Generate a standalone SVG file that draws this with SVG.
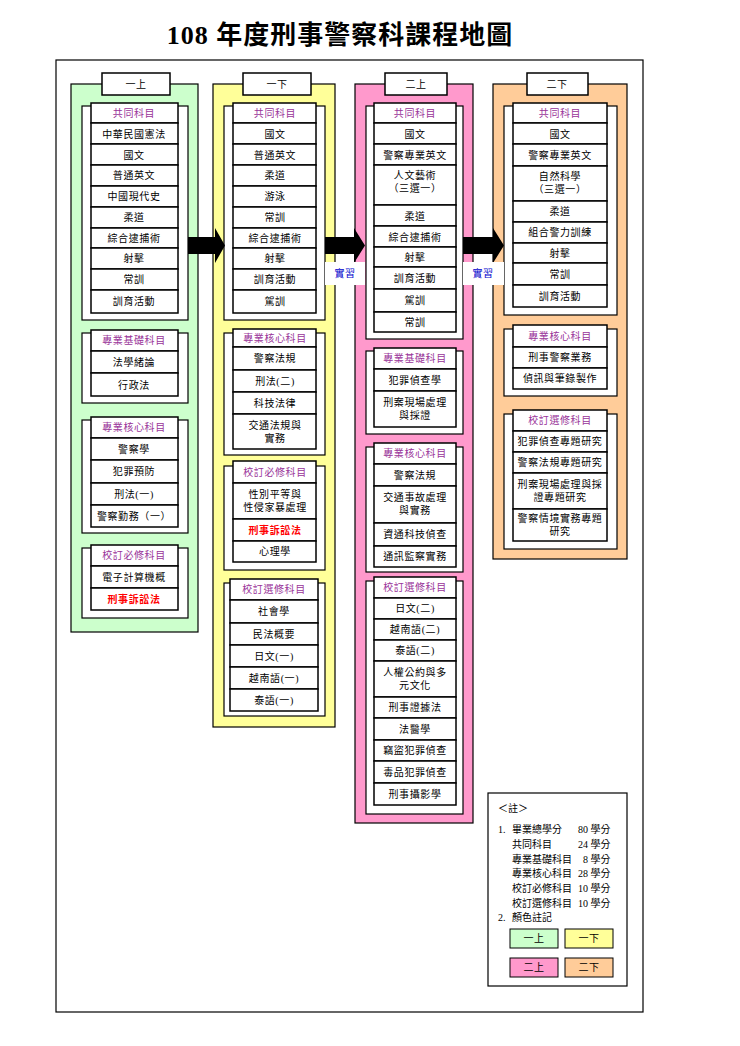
<svg xmlns="http://www.w3.org/2000/svg" width="740" height="1046" viewBox="0 0 740 1046">
<style>
text{font-family:"Liberation Serif","Noto Sans CJK TC",serif;font-size:10px;text-anchor:middle;fill:#000;letter-spacing:0.6px}
.t{font-size:26px;font-weight:bold;letter-spacing:1px}
.h{fill:#993399}
.r{fill:#ff0000;font-weight:bold}
.b{fill:#0000cc}
.c{fill:#fff;stroke:#000;stroke-width:1.5}
.o{fill:#fff;stroke:#000;stroke-width:1.2}
.l{text-anchor:start;letter-spacing:0}
</style>
<rect width="740" height="1046" fill="#fff"/>
<text class="t" x="340" y="44">108 年度刑事警察科課程地圖</text>
<rect x="56" y="60" width="587" height="952" fill="none" stroke="#000" stroke-width="1.2"/>

<g id="col1">
<rect x="71" y="84" width="127" height="548" fill="#ccffcc" stroke="#000" stroke-width="1.2"/>
<rect class="c" x="102" y="73" width="68" height="22"/><text x="136" y="88">一上</text>
<rect class="o" x="82" y="106" width="106" height="214"/>
<rect class="c" x="91" y="103" width="87" height="20"/><text class="h" x="134" y="117">共同科目</text>
<rect class="c" x="91" y="123" width="87" height="21"/><text x="134" y="138">中華民國憲法</text>
<rect class="c" x="91" y="144" width="87" height="21"/><text x="134" y="159">國文</text>
<rect class="c" x="91" y="165" width="87" height="21"/><text x="134" y="179">普通英文</text>
<rect class="c" x="91" y="186" width="87" height="21"/><text x="134" y="200">中國現代史</text>
<rect class="c" x="91" y="207" width="87" height="21"/><text x="134" y="221">柔道</text>
<rect class="c" x="91" y="228" width="87" height="20"/><text x="134" y="242">綜合逮捕術</text>
<rect class="c" x="91" y="248" width="87" height="21"/><text x="134" y="262">射擊</text>
<rect class="c" x="91" y="269" width="87" height="21"/><text x="134" y="283">常訓</text>
<rect class="c" x="91" y="290" width="87" height="23"/><text x="134" y="305">訓育活動</text>
<rect class="o" x="82" y="333" width="106" height="70"/>
<rect class="c" x="91" y="330" width="87" height="21"/><text class="h" x="134" y="344">專業基礎科目</text>
<rect class="c" x="91" y="351" width="87" height="22"/><text x="134" y="366">法學緒論</text>
<rect class="c" x="91" y="373" width="87" height="23"/><text x="134" y="389">行政法</text>
<rect class="o" x="82" y="420" width="106" height="113"/>
<rect class="c" x="91" y="417" width="87" height="21"/><text class="h" x="134" y="431">專業核心科目</text>
<rect class="c" x="91" y="438" width="87" height="22"/><text x="134" y="453">警察學</text>
<rect class="c" x="91" y="460" width="87" height="23"/><text x="134" y="475">犯罪預防</text>
<rect class="c" x="91" y="483" width="87" height="22"/><text x="134" y="498">刑法(一)</text>
<rect class="c" x="91" y="505" width="87" height="22"/><text x="134" y="520">警察勤務（一）</text>
<rect class="o" x="82" y="548" width="106" height="70"/>
<rect class="c" x="91" y="545" width="87" height="21"/><text class="h" x="134" y="559">校訂必修科目</text>
<rect class="c" x="91" y="566" width="87" height="22"/><text x="134" y="581">電子計算機概</text>
<rect class="c" x="91" y="588" width="87" height="22"/><text class="r" x="134" y="603">刑事訴訟法</text>
</g>

<g id="col2">
<rect x="213" y="84" width="122" height="643" fill="#ffff99" stroke="#000" stroke-width="1.2"/>
<rect class="c" x="243" y="73" width="68" height="22"/><text x="277" y="88">一下</text>
<rect class="o" x="224" y="106" width="101" height="214"/>
<rect class="c" x="233" y="103" width="83" height="20"/><text class="h" x="275" y="117">共同科目</text>
<rect class="c" x="233" y="123" width="83" height="21"/><text x="275" y="138">國文</text>
<rect class="c" x="233" y="144" width="83" height="21"/><text x="275" y="159">普通英文</text>
<rect class="c" x="233" y="165" width="83" height="21"/><text x="275" y="179">柔道</text>
<rect class="c" x="233" y="186" width="83" height="21"/><text x="275" y="200">游泳</text>
<rect class="c" x="233" y="207" width="83" height="21"/><text x="275" y="221">常訓</text>
<rect class="c" x="233" y="228" width="83" height="20"/><text x="275" y="242">綜合逮捕術</text>
<rect class="c" x="233" y="248" width="83" height="21"/><text x="275" y="262">射擊</text>
<rect class="c" x="233" y="269" width="83" height="21"/><text x="275" y="283">訓育活動</text>
<rect class="c" x="233" y="290" width="83" height="23"/><text x="275" y="305">駕訓</text>
<rect class="o" x="224" y="333" width="101" height="122"/>
<rect class="c" x="233" y="329" width="83" height="18"/><text class="h" x="275" y="342">專業核心科目</text>
<rect class="c" x="233" y="347" width="83" height="23"/><text x="275" y="362">警察法規</text>
<rect class="c" x="233" y="370" width="83" height="22"/><text x="275" y="385">刑法(二)</text>
<rect class="c" x="233" y="392" width="83" height="22"/><text x="275" y="407">科技法律</text>
<rect class="c" x="233" y="414" width="83" height="35"/><text x="275" y="429">交通法規與</text><text x="275" y="442">實務</text>
<rect class="o" x="224" y="466" width="101" height="104"/>
<rect class="c" x="233" y="461" width="83" height="22"/><text class="h" x="275" y="476">校訂必修科目</text>
<rect class="c" x="233" y="483" width="83" height="36"/><text x="275" y="498">性別平等與</text><text x="275" y="511">性侵家暴處理</text>
<rect class="c" x="233" y="519" width="83" height="22"/><text class="r" x="275" y="534">刑事訴訟法</text>
<rect class="c" x="233" y="541" width="83" height="21"/><text x="275" y="555">心理學</text>
<rect class="o" x="224" y="583" width="101" height="133"/>
<rect class="c" x="230" y="579" width="88" height="21"/><text class="h" x="274" y="593">校訂選修科目</text>
<rect class="c" x="230" y="600" width="88" height="23"/><text x="274" y="615">社會學</text>
<rect class="c" x="230" y="623" width="88" height="22"/><text x="274" y="638">民法概要</text>
<rect class="c" x="230" y="645" width="88" height="22"/><text x="274" y="660">日文(一)</text>
<rect class="c" x="230" y="667" width="88" height="22"/><text x="274" y="682">越南語(一)</text>
<rect class="c" x="230" y="689" width="88" height="22"/><text x="274" y="704">泰語(一)</text>
</g>

<g id="col3">
<rect x="355" y="84" width="118" height="739" fill="#ff99cc" stroke="#000" stroke-width="1.2"/>
<rect class="c" x="385" y="73" width="62" height="22"/><text x="416" y="88">二上</text>
<rect class="o" x="366" y="106" width="97" height="233"/>
<rect class="c" x="374" y="103" width="82" height="20"/><text class="h" x="415" y="117">共同科目</text>
<rect class="c" x="374" y="123" width="82" height="21"/><text x="415" y="138">國文</text>
<rect class="c" x="374" y="144" width="82" height="21"/><text x="415" y="159">警察專業英文</text>
<rect class="c" x="374" y="165" width="82" height="40"/><text x="415" y="179">人文藝術</text><text x="415" y="192">（三選一）</text>
<rect class="c" x="374" y="205" width="82" height="21"/><text x="415" y="220">柔道</text>
<rect class="c" x="374" y="226" width="82" height="21"/><text x="415" y="241">綜合逮捕術</text>
<rect class="c" x="374" y="247" width="82" height="20"/><text x="415" y="261">射擊</text>
<rect class="c" x="374" y="267" width="82" height="22"/><text x="415" y="282">訓育活動</text>
<rect class="c" x="374" y="289" width="82" height="23"/><text x="415" y="304">駕訓</text>
<rect class="c" x="374" y="312" width="82" height="20"/><text x="415" y="326">常訓</text>
<rect class="o" x="366" y="351" width="97" height="83"/>
<rect class="c" x="374" y="348" width="82" height="21"/><text class="h" x="415" y="362">專業基礎科目</text>
<rect class="c" x="374" y="369" width="82" height="22"/><text x="415" y="384">犯罪偵查學</text>
<rect class="c" x="374" y="391" width="82" height="36"/><text x="415" y="406">刑案現場處理</text><text x="415" y="419">與採證</text>
<rect class="o" x="366" y="447" width="97" height="125"/>
<rect class="c" x="374" y="443" width="82" height="21"/><text class="h" x="415" y="457">專業核心科目</text>
<rect class="c" x="374" y="464" width="82" height="22"/><text x="415" y="479">警察法規</text>
<rect class="c" x="374" y="486" width="82" height="37"/><text x="415" y="501">交通事故處理</text><text x="415" y="514">與實務</text>
<rect class="c" x="374" y="523" width="82" height="23"/><text x="415" y="538">資通科技偵查</text>
<rect class="c" x="374" y="546" width="82" height="21"/><text x="415" y="560">通訊監察實務</text>
<rect class="o" x="366" y="581" width="97" height="233"/>
<rect class="c" x="374" y="577" width="82" height="21"/><text class="h" x="415" y="591">校訂選修科目</text>
<rect class="c" x="374" y="598" width="82" height="21"/><text x="415" y="612">日文(二)</text>
<rect class="c" x="374" y="619" width="82" height="21"/><text x="415" y="633">越南語(二)</text>
<rect class="c" x="374" y="640" width="82" height="21"/><text x="415" y="654">泰語(二)</text>
<rect class="c" x="374" y="661" width="82" height="36"/><text x="415" y="676">人權公約與多</text><text x="415" y="689">元文化</text>
<rect class="c" x="374" y="697" width="82" height="21"/><text x="415" y="711">刑事證據法</text>
<rect class="c" x="374" y="718" width="82" height="22"/><text x="415" y="733">法醫學</text>
<rect class="c" x="374" y="740" width="82" height="21"/><text x="415" y="754">竊盜犯罪偵查</text>
<rect class="c" x="374" y="761" width="82" height="22"/><text x="415" y="776">毒品犯罪偵查</text>
<rect class="c" x="374" y="783" width="82" height="22"/><text x="415" y="798">刑事攝影學</text>
</g>

<g id="col4">
<rect x="493" y="84" width="134" height="475" fill="#ffcc99" stroke="#000" stroke-width="1.2"/>
<rect class="c" x="527" y="73" width="61" height="22"/><text x="557" y="88">二下</text>
<rect class="o" x="504" y="106" width="113" height="209"/>
<rect class="c" x="513" y="103" width="94" height="20"/><text class="h" x="560" y="117">共同科目</text>
<rect class="c" x="513" y="123" width="94" height="21"/><text x="560" y="138">國文</text>
<rect class="c" x="513" y="144" width="94" height="22"/><text x="560" y="159">警察專業英文</text>
<rect class="c" x="513" y="166" width="94" height="35"/><text x="560" y="180">自然科學</text><text x="560" y="193">（三選一）</text>
<rect class="c" x="513" y="201" width="94" height="21"/><text x="560" y="215">柔道</text>
<rect class="c" x="513" y="222" width="94" height="21"/><text x="560" y="236">組合警力訓練</text>
<rect class="c" x="513" y="243" width="94" height="20"/><text x="560" y="257">射擊</text>
<rect class="c" x="513" y="263" width="94" height="22"/><text x="560" y="278">常訓</text>
<rect class="c" x="513" y="285" width="94" height="22"/><text x="560" y="300">訓育活動</text>
<rect class="o" x="504" y="329" width="113" height="67"/>
<rect class="c" x="513" y="325" width="94" height="22"/><text class="h" x="560" y="340">專業核心科目</text>
<rect class="c" x="513" y="347" width="94" height="21"/><text x="560" y="361">刑事警察業務</text>
<rect class="c" x="513" y="368" width="94" height="21"/><text x="560" y="382">偵訊與筆錄製作</text>
<rect class="o" x="504" y="414" width="113" height="135"/>
<rect class="c" x="513" y="410" width="94" height="21"/><text class="h" x="560" y="424">校訂選修科目</text>
<rect class="c" x="513" y="431" width="94" height="21"/><text x="560" y="445">犯罪偵查專題研究</text>
<rect class="c" x="513" y="452" width="94" height="21"/><text x="560" y="466">警察法規專題研究</text>
<rect class="c" x="513" y="473" width="94" height="36"/><text x="560" y="488">刑案現場處理與採</text><text x="560" y="501">證專題研究</text>
<rect class="c" x="513" y="509" width="94" height="32"/><text x="560" y="522">警察情境實務專題</text><text x="560" y="535">研究</text>
</g>

<g id="connectors">
<polygon points="188,237 215,237 215,228 225,245.5 215,263 215,254 188,254" fill="#000"/>
<polygon points="325,237 354,237 354,228 365,245.5 354,263 354,254 325,254" fill="#000"/>
<polygon points="463,237 493,237 493,228 504,245.5 493,263 493,254 463,254" fill="#000"/>
<rect x="325" y="262" width="40" height="23" fill="#fff"/><text class="b" x="345" y="277">實習</text>
<rect x="463" y="262" width="41" height="23" fill="#fff"/><text class="b" x="483" y="277">實習</text>
</g>

<g id="legend">
<rect x="488" y="793" width="139" height="193" fill="#fff" stroke="#000" stroke-width="1.2"/>
<text class="l" x="498" y="812">＜註＞</text>
<text class="l" x="498" y="833">1.</text><text class="l" x="512" y="833">畢業總學分</text><text class="l" x="578" y="833">80 學分</text>
<text class="l" x="512" y="848">共同科目</text><text class="l" x="578" y="848">24 學分</text>
<text class="l" x="512" y="863">專業基礎科目</text><text class="l" x="583" y="863">8 學分</text>
<text class="l" x="512" y="877">專業核心科目</text><text class="l" x="578" y="877">28 學分</text>
<text class="l" x="512" y="892">校訂必修科目</text><text class="l" x="578" y="892">10 學分</text>
<text class="l" x="512" y="907">校訂選修科目</text><text class="l" x="578" y="907">10 學分</text>
<text class="l" x="498" y="921">2.</text><text class="l" x="512" y="921">顏色註記</text>
<rect x="510" y="929" width="48" height="19" fill="#ccffcc" stroke="#000"/><text x="534" y="942">一上</text>
<rect x="565" y="929" width="48" height="19" fill="#ffff99" stroke="#000"/><text x="589" y="942">一下</text>
<rect x="510" y="958" width="48" height="19" fill="#ff99cc" stroke="#000"/><text x="534" y="971">二上</text>
<rect x="565" y="958" width="48" height="19" fill="#ffcc99" stroke="#000"/><text x="589" y="971">二下</text>
</g>
</svg>
